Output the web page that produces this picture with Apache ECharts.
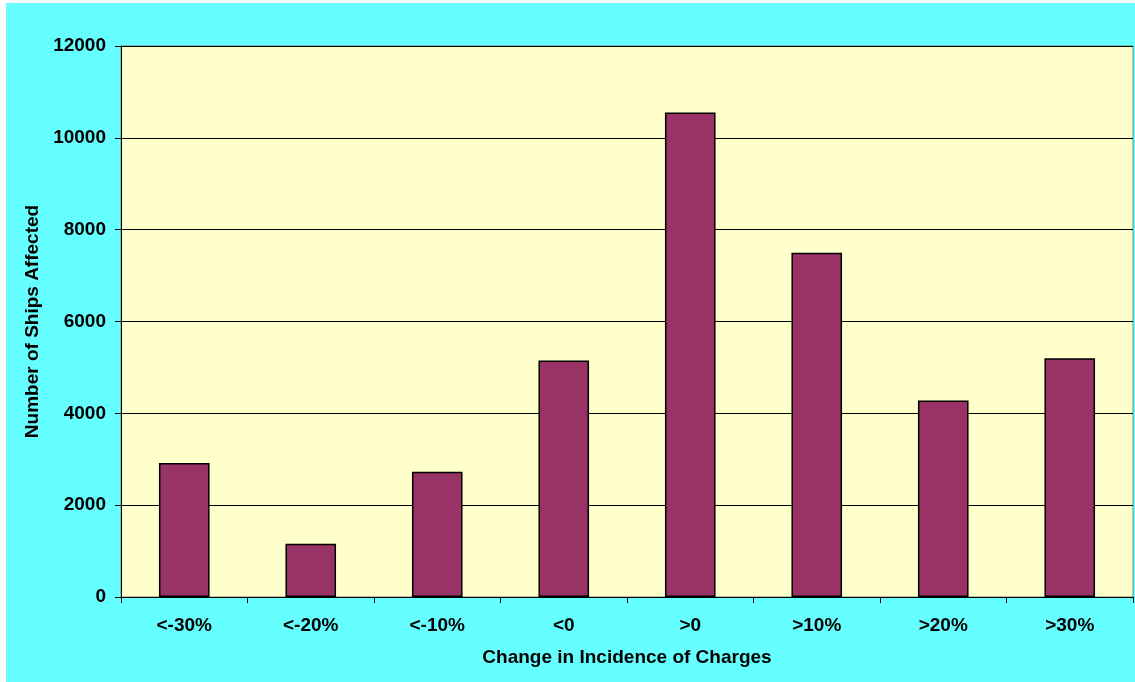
<!DOCTYPE html>
<html>
<head>
<meta charset="utf-8">
<script src="https://cdn.jsdelivr.net/npm/echarts@6/dist/echarts.min.js"></script>
<style>
  html, body { margin: 0; padding: 0; background: #ffffff; }
  #chart { position: absolute; left: 6px; top: 3px; width: 1129px; height: 679px; background: #66FFFF; }
</style>
</head>
<body>
<div id="chart"></div>
<script>
// Ships affected per band of change in incidence of charges
const categories = ['<-30%', '<-20%', '<-10%', '<0', '>0', '>10%', '>20%', '>30%'];
const shipsAffected = [2920, 1160, 2730, 5150, 10550, 7500, 4280, 5200];
const yTicks = { min: 0, max: 12000, interval: 2000 };

const font = 'Liberation Sans, Arial, sans-serif';
const textStyle = { fontFamily: font, fontWeight: 'bold', fontSize: 19, color: '#000' };
const chart = echarts.init(document.getElementById('chart'));
chart.setOption({
  animation: false,
  backgroundColor: '#66FFFF',
  grid: {
    left: 115, right: 2, top: 43, bottom: 85,
    show: true, backgroundColor: '#FFFFCC', borderColor: '#808080', borderWidth: 1
  },
  xAxis: {
    type: 'category',
    data: categories,
    name: 'Change in Incidence of Charges',
    nameLocation: 'middle',
    nameGap: 51,
    nameTextStyle: textStyle,
    axisLine: { lineStyle: { color: '#000', width: 1 } },
    axisTick: { show: true, length: 6, lineStyle: { color: '#000' } },
    axisLabel: Object.assign({ margin: 19 }, textStyle),
    splitLine: { show: false }
  },
  yAxis: {
    type: 'value',
    min: yTicks.min, max: yTicks.max, interval: yTicks.interval,
    name: 'Number of Ships Affected',
    nameLocation: 'middle',
    nameGap: 70,
    nameRotate: 90,
    nameTextStyle: textStyle,
    axisLine: { show: true, lineStyle: { color: '#000', width: 1 } },
    axisTick: { show: true, length: 6, lineStyle: { color: '#000' } },
    axisLabel: Object.assign({ margin: 15, formatter: v => String(v) }, textStyle),
    splitLine: { show: true, lineStyle: { color: '#000', width: 1 } }
  },
  series: [{
    type: 'bar',
    data: shipsAffected,
    barCategoryGap: '60%',
    itemStyle: { color: '#993366', borderColor: '#000', borderWidth: 1.5 }
  }]
});
</script>
</body>
</html>
